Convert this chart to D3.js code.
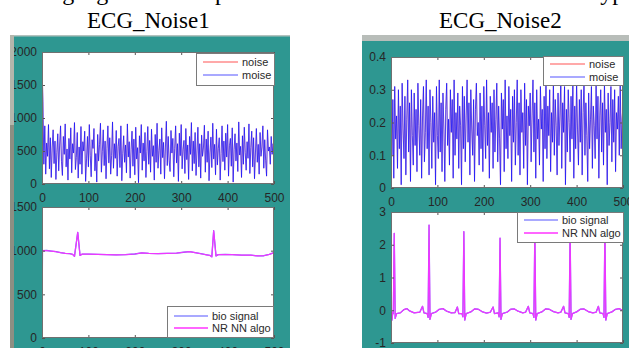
<!DOCTYPE html>
<html>
<head>
<meta charset="utf-8">
<script src="https://cdn.jsdelivr.net/npm/d3@7"></script>
<style>
  body { margin: 0; background: #fff; }
  svg { display: block; }
</style>
</head>
<body>
<div id="chart"></div>
<script>
// tick values
const xTicks = [0, 100, 200, 300, 400, 500];
const noise1Ticks = [0, 500, 1000, 1500, 2000];
const ecg1Ticks = [0, 500, 1000, 1500];
const noise2Ticks = [0, 0.1, 0.2, 0.3, 0.4];
const ecg2Ticks = [-1, 0, 1, 2, 3];

const titles = ['ECG_Noise1', 'ECG_Noise2'];
const noiseLegend = ['noise', 'moise'];
const ecgLegend = ['bio signal', 'NR NN algo'];

// noise samples (evenly spaced over 0..500)
const noise1 = [
  1800, 1250, 300, 880, 150, 620, 420, 900, 230, 700, 100, 560, 820, 310, 650, 70, 480, 760, 200, 590,
  880, 340, 130, 720, 450, 910, 260, 530, 60, 690, 380, 850, 170, 610, 470, 930, 220, 400, 780, 90,
  560, 300, 870, 150, 640, 500, 800, 40, 380, 720, 260, 900, 430, 110, 670, 540, 840, 200, 460, 30,
  750, 350, 600, 920, 180, 490, 820, 280, 650, 80, 540, 880, 320, 700, 150, 430, 940, 240, 610, 390,
  810, 120, 570, 690, 250, 880, 50, 460, 730, 330, 590, 170, 910, 410, 640, 90, 520, 800, 270, 680,
  140, 860, 380, 550, 20, 730, 470, 900, 210, 620, 350, 780, 100, 490, 870, 300, 660, 180, 830, 420,
  580, 60, 750, 330, 920, 240, 510, 680, 150, 850, 400, 630, 80, 560, 950, 280, 720, 360, 190, 810,
  470, 690, 110, 540, 880, 320, 610, 40, 770, 430, 900, 230, 520, 660, 160, 840, 370, 590, 70, 720,
  450, 930, 200, 650, 310, 780, 130, 500, 860, 260, 610, 90, 740, 420, 560, 890, 180, 680, 330, 800,
  50, 470, 710, 250, 920, 380, 600, 140, 830, 290, 540, 700, 60, 460, 880, 340, 650, 210, 770, 410,
  900, 120, 580, 690, 270, 850, 30, 520, 760, 350, 620, 190, 940, 440, 570, 100, 730, 300, 860, 480,
  210, 640, 390, 910, 160, 550, 800, 260, 700, 80, 470, 840, 330, 600, 150, 780, 420, 560, 880, 240,
  670, 360, 120, 820, 500, 560, 300, 720, 450, 610, 540];

const noise2 = [
  0.33, 0.1, 0.27, 0.03, 0.31, 0.15, 0.22, 0.06, 0.3, 0.12, 0.25, 0.01, 0.32, 0.18, 0.09, 0.28, 0.04, 0.21, 0.33, 0.11,
  0.26, 0.02, 0.3, 0.16, 0.07, 0.29, 0.13, 0.24, 0.05, 0.32, 0.19, 0.1, 0.27, 0.03, 0.22, 0.31, 0.08, 0.17, 0.33, 0.12,
  0.25, 0.04, 0.3, 0.2, 0.06, 0.28, 0.14, 0.23, 0.01, 0.31, 0.16, 0.09, 0.33, 0.11, 0.26, 0.05, 0.29, 0.18, 0.02, 0.24,
  0.32, 0.13, 0.21, 0.07, 0.3, 0.17, 0.27, 0.03, 0.33, 0.1, 0.23, 0.15, 0.29, 0.06, 0.25, 0.19, 0.01, 0.31, 0.12, 0.28,
  0.08, 0.22, 0.33, 0.14, 0.26, 0.04, 0.3, 0.18, 0.1, 0.27, 0.02, 0.24, 0.32, 0.16, 0.2, 0.07, 0.29, 0.12, 0.25, 0.05,
  0.31, 0.19, 0.09, 0.33, 0.13, 0.23, 0.03, 0.28, 0.17, 0.26, 0.06, 0.3, 0.11, 0.21, 0.32, 0.08, 0.25, 0.15, 0.01, 0.29,
  0.18, 0.27, 0.05, 0.33, 0.12, 0.22, 0.09, 0.31, 0.16, 0.24, 0.02, 0.28, 0.14, 0.3, 0.07, 0.2, 0.33, 0.1, 0.26, 0.04,
  0.3, 0.17, 0.23, 0.06, 0.32, 0.13, 0.27, 0.01, 0.25, 0.19, 0.29, 0.08, 0.22, 0.33, 0.11, 0.26, 0.03, 0.3, 0.15, 0.21,
  0.07, 0.31, 0.18, 0.24, 0.02, 0.28, 0.12, 0.33, 0.09, 0.25, 0.16, 0.3, 0.05, 0.23, 0.14, 0.32, 0.1, 0.27, 0.19, 0.04,
  0.29, 0.13, 0.22, 0.33, 0.06, 0.26, 0.17, 0.31, 0.01, 0.24, 0.11, 0.3, 0.2, 0.08, 0.28, 0.15, 0.33, 0.03, 0.25, 0.12,
  0.32, 0.18, 0.07, 0.27, 0.14, 0.3, 0.04, 0.23, 0.33, 0.1, 0.26, 0.16, 0.02, 0.29, 0.12, 0.21, 0.31, 0.06, 0.25, 0.19,
  0.09, 0.33, 0.15, 0.28, 0.03, 0.22, 0.3, 0.11, 0.26, 0.07, 0.32, 0.17, 0.24, 0.01, 0.29, 0.13, 0.2, 0.31, 0.08, 0.27,
  0.14, 0.3, 0.05, 0.23, 0.18, 0.28, 0.1, 0.33, 0.12, 0.21, 0.25];

// ECG_Noise1 output (sample index, value)
const ecg1T = [0, 1, 10, 20, 30, 40, 50, 60, 66, 70, 77, 82, 86, 100, 120, 140, 160, 180, 200, 215,
  230, 250, 270, 290, 305, 318, 330, 345, 355, 362, 366, 370, 375, 380, 395, 410, 430, 450, 465, 478, 490, 500];
const ecg1V = [0, 1000, 1002, 995, 988, 978, 970, 965, 958, 935, 1210, 945, 960, 960, 957, 955, 952, 955, 962, 975,
  970, 966, 968, 972, 982, 990, 978, 962, 952, 945, 930, 1228, 940, 955, 956, 954, 950, 948, 940, 942, 958, 978];

// ECG_Noise2 output (sample index, value)
const ecg2T = [0, 2, 4, 5, 7, 9, 12, 20, 28, 34, 40, 50, 62, 68, 71, 78, 80, 82, 84, 87,
  96, 104, 112, 120, 130, 138, 143, 146, 153, 155, 157, 159, 162, 172, 180, 188, 196, 206, 214, 220,
  223, 231, 233, 235, 237, 240, 250, 258, 266, 274, 284, 290, 296, 299, 306, 308, 310, 312, 315, 325,
  333, 341, 350, 360, 366, 372, 375, 382, 384, 386, 388, 391, 400, 408, 416, 425, 435, 442, 447, 450,
  457, 459, 461, 463, 466, 476, 484, 492, 500];
const ecg2V = [-0.1, -0.3, -0.05, -0.1, 2.35, -0.25, -0.1, -0.08, 0.02, 0.05, -0.02, -0.08, -0.06, 0.12, -0.08, -0.1, -0.22, 2.6, -0.28, -0.1,
  -0.06, 0.03, 0.05, -0.03, -0.08, -0.07, 0.1, -0.1, -0.1, -0.2, 2.4, -0.3, -0.1, -0.05, 0.04, 0.03, -0.04, -0.09, -0.06, 0.1,
  -0.1, -0.08, -0.2, 2.2, -0.28, -0.1, -0.06, 0.03, 0.04, -0.03, -0.08, -0.06, 0.12, -0.08, -0.1, -0.22, 2.4, -0.3, -0.1, -0.05,
  0.04, 0.03, -0.04, -0.08, -0.06, 0.12, -0.08, -0.1, -0.22, 2.4, -0.28, -0.1, -0.05, 0.03, 0.04, -0.04, -0.08, -0.06, 0.12, -0.08,
  -0.1, -0.22, 2.45, -0.3, -0.1, -0.05, 0.03, 0.05, -0.02];

const W = 629, H = 348;
const teal = '#2e9791';

const svg = d3.select('#chart').append('svg')
  .attr('width', W)
  .attr('height', H)
  .style('font-family', 'Arial, "Liberation Sans", sans-serif');

svg.append('rect').attr('width', W).attr('height', H).attr('fill', '#fff');

// caption line cut off at the top of the picture
svg.append('text')
  .attr('x', 4)
  .attr('y', 0)
  .style('font-family', '"Liberation Serif", "Times New Roman", serif')
  .style('font-size', '24px')
  .attr('fill', '#000')
  .text('Testing signal and output of the noise removal for both noise types, processed by');

// titles
svg.selectAll('text.title')
  .data(titles)
  .join('text')
  .attr('class', 'title')
  .attr('x', (d, i) => i === 0 ? 87 : 439)
  .attr('y', 28)
  .style('font-family', '"Liberation Serif", "Times New Roman", serif')
  .style('font-size', '23px')
  .attr('fill', '#000')
  .text(d => d);

const toPoints = (ts, vs) => ts.map((t, i) => [t, vs[i]]);
const evenPoints = vs => vs.map((v, i) => [i * 500 / (vs.length - 1), v]);

let clipId = 0;

function drawPlot(root, box, yDomain, yTicks, series, legend) {
  const x = d3.scaleLinear().domain([0, 500]).range([box.left, box.right]);
  const y = d3.scaleLinear().domain(yDomain).range([box.bottom, box.top]);

  root.append('rect')
    .attr('x', box.left).attr('y', box.top)
    .attr('width', box.right - box.left).attr('height', box.bottom - box.top)
    .attr('fill', '#fff');

  const id = 'clip' + (clipId++);
  root.append('clipPath').attr('id', id)
    .append('rect')
    .attr('x', box.left).attr('y', box.top)
    .attr('width', box.right - box.left).attr('height', box.bottom - box.top);

  const line = d3.line().x(d => x(d[0])).y(d => y(d[1]));
  const lines = root.append('g').attr('clip-path', `url(#${id})`);
  series.forEach(s => {
    lines.append('path')
      .datum(s.points)
      .attr('fill', 'none')
      .attr('stroke', s.color)
      .attr('stroke-width', s.width)
      .attr('stroke-opacity', s.opacity || 1)
      .attr('stroke-linejoin', 'round')
      .attr('d', line);
  });

  const styleAxis = g => {
    g.select('.domain').remove();
    g.selectAll('.tick line').attr('stroke', '#555');
    g.selectAll('.tick text')
      .attr('fill', '#262626')
      .style('font-size', '12px')
      .style('font-family', 'Arial, "Liberation Sans", sans-serif');
  };

  root.append('g')
    .attr('transform', `translate(0,${box.bottom})`)
    .call(d3.axisBottom(x).tickValues(xTicks).tickSizeInner(-3).tickSizeOuter(0).tickPadding(9).tickFormat(d3.format('d')))
    .call(styleAxis);
  root.append('g')
    .attr('transform', `translate(0,${box.top})`)
    .call(d3.axisTop(x).tickValues(xTicks).tickSizeInner(-3).tickSizeOuter(0).tickFormat(''))
    .call(styleAxis);
  root.append('g')
    .attr('transform', `translate(${box.left},0)`)
    .call(d3.axisLeft(y).tickValues(yTicks).tickSizeInner(-3).tickSizeOuter(0).tickPadding(5).tickFormat(d => String(d)))
    .call(styleAxis);
  root.append('g')
    .attr('transform', `translate(${box.right},0)`)
    .call(d3.axisRight(y).tickValues(yTicks).tickSizeInner(-3).tickSizeOuter(0).tickFormat(''))
    .call(styleAxis);

  root.append('rect')
    .attr('x', box.left + 0.5).attr('y', box.top + 0.5)
    .attr('width', box.right - box.left - 1).attr('height', box.bottom - box.top - 1)
    .attr('fill', 'none')
    .attr('stroke', '#707070');

  // legend
  const lg = root.append('g');
  lg.append('rect')
    .attr('x', legend.x + 0.5).attr('y', legend.y + 0.5)
    .attr('width', legend.w).attr('height', legend.h)
    .attr('fill', '#fff')
    .attr('stroke', '#7a7a7a');
  legend.labels.forEach((label, i) => {
    const ry = legend.rows[i];
    lg.append('line')
      .attr('x1', legend.x + legend.l0).attr('x2', legend.x + legend.l1)
      .attr('y1', ry).attr('y2', ry)
      .attr('stroke', legend.colors[i])
      .attr('stroke-width', 1.6)
      .attr('stroke-opacity', legend.opac[i]);
    lg.append('text')
      .attr('x', legend.x + legend.l1 + 4)
      .attr('y', ry)
      .attr('dy', '0.35em')
      .style('font-size', '11px')
      .attr('fill', '#2a2a2a')
      .text(label);
  });
}

// ---- left figure ----
svg.append('clipPath').attr('id', 'leftFig')
  .append('rect').attr('x', 14).attr('y', 35).attr('width', 276).attr('height', H - 35);
const left = svg.append('g').attr('clip-path', 'url(#leftFig)');
left.append('rect').attr('x', 14).attr('y', 35).attr('width', 276).attr('height', H - 35).attr('fill', teal);
left.append('rect').attr('x', 14).attr('y', 35).attr('width', 276).attr('height', 1.5).attr('fill', '#b3c2be');

svg.append('rect').attr('x', 10).attr('y', 35).attr('width', 4).attr('height', 90).attr('fill', '#b4b6ac');
svg.append('rect').attr('x', 10).attr('y', 125).attr('width', 4).attr('height', H - 125).attr('fill', '#8d8f83');

drawPlot(left, { left: 42, right: 274, top: 52, bottom: 184 }, [0, 2000], noise1Ticks,
  [
    { points: evenPoints(noise1), color: '#ff0000', width: 1.1, opacity: 0.25 },
    { points: evenPoints(noise1), color: '#1010ff', width: 0.9, opacity: 0.8 }
  ],
  { x: 196, y: 53, w: 78, h: 32, l0: 7, l1: 42, rows: [62, 75],
    labels: noiseLegend, colors: ['#ff0000', '#0000ff'], opac: [0.45, 0.45] });

drawPlot(left, { left: 42, right: 274, top: 207, bottom: 338 }, [0, 1500], ecg1Ticks,
  [
    { points: toPoints(ecg1T, ecg1V), color: '#6a5cff', width: 1.3 },
    { points: toPoints(ecg1T, ecg1V), color: '#ff33ff', width: 1.2, opacity: 0.9 }
  ],
  { x: 167, y: 306, w: 106, h: 31, l0: 7, l1: 41, rows: [316, 328],
    labels: ecgLegend, colors: ['#0000ff', '#ff00ff'], opac: [0.45, 0.8] });

// ---- right figure ----
const right = svg.append('g');
right.append('rect').attr('x', 362).attr('y', 35).attr('width', W - 362).attr('height', 6).attr('fill', '#b8bdb9');
right.append('rect').attr('x', 362).attr('y', 41).attr('width', W - 362).attr('height', H - 41).attr('fill', teal);

drawPlot(right, { left: 391, right: 623, top: 57, bottom: 188 }, [0, 0.4], noise2Ticks,
  [
    { points: evenPoints(noise2), color: '#ff0000', width: 1.1, opacity: 0.25 },
    { points: evenPoints(noise2), color: '#1010ff', width: 0.9, opacity: 0.8 }
  ],
  { x: 543, y: 56, w: 80, h: 29, l0: 7, l1: 42, rows: [64, 77],
    labels: noiseLegend, colors: ['#ff0000', '#0000ff'], opac: [0.45, 0.45] });

drawPlot(right, { left: 391, right: 623, top: 212, bottom: 343 }, [-1, 3], ecg2Ticks,
  [
    { points: toPoints(ecg2T, ecg2V), color: '#6a5cff', width: 1.3 },
    { points: toPoints(ecg2T, ecg2V), color: '#ff33ff', width: 1.2, opacity: 0.9 }
  ],
  { x: 517, y: 212, w: 106, h: 30, l0: 7, l1: 41, rows: [220, 233],
    labels: ecgLegend, colors: ['#0000ff', '#ff00ff'], opac: [0.45, 0.8] });
</script>
</body>
</html>
